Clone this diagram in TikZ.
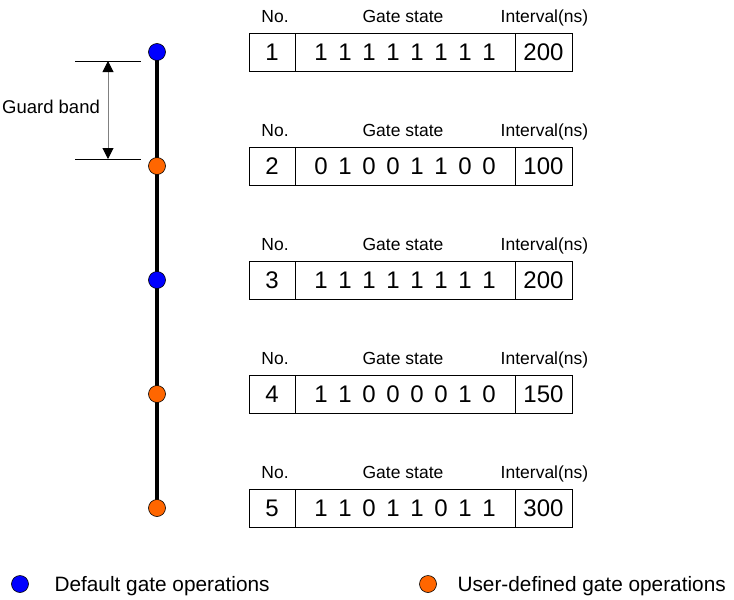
\documentclass[tikz,border=0pt]{standalone}
\usepackage{fontspec}
\setmainfont{Liberation Sans}
\newfontfamily\statefont[WordSpace=1.6]{Liberation Sans}
\usetikzlibrary{arrows.meta,backgrounds}
\definecolor{defaultop}{RGB}{0,0,255}
\definecolor{userop}{RGB}{255,102,0}
\tikzset{
  op/.style={circle,draw=black,line width=.6pt,minimum size=17pt,inner sep=0pt},
  cell/.style={draw=black,line width=.9pt,minimum height=38pt,inner sep=0pt,font=\fontsize{24}{24}\selectfont},
  head/.style={anchor=base,font=\fontsize{17.5}{18}\selectfont},
  legend/.style={anchor=base west,font=\fontsize{20.8}{21}\selectfont}
}

\begin{document}
\begin{tikzpicture}[x=1pt,y=-1pt]
    \useasboundingbox (0,0) rectangle (734,600);
    % gate control list ======================================
    \foreach \i/\c/\g/\t in {1/defaultop/1 1 1 1 1 1 1 1/200,
                             2/userop/0 1 0 0 1 1 0 0/100,
                             3/defaultop/1 1 1 1 1 1 1 1/200,
                             4/userop/1 1 0 0 0 0 1 0/150,
                             5/userop/1 1 0 1 1 0 1 1/300} {
      \pgfmathsetmacro{\y}{52+114*(\i-1)}
      \node[op,fill=\c]           (p\i)   at (157,\y)   {};
      \node[cell,minimum width=46pt]  (no\i)  at (272,\y)   {\i};
      \node[cell,minimum width=220pt] (gs\i)  at (405,\y)   {\statefont\g};
      \node[cell,minimum width=57pt]  (iv\i)  at (543.5,\y) {\t};
      \node[head]                 (hno\i) at (275,\y-30)   {No.};
      \node[head]                 (hgs\i) at (403,\y-30)   {Gate state};
      \node[head]                 (hiv\i) at (544.5,\y-30) {Interval(ns)};
    }
    \begin{scope}[on background layer]
      \draw[line width=3.8pt] (p1.center) -- (p5.center);
    \end{scope}
    % guard band =============================================
    \coordinate (gt1) at (75,61);  \coordinate (gt2) at (141,61);
    \coordinate (gb1) at (75,159); \coordinate (gb2) at (141,159);
    \coordinate (gat) at (108,61); \coordinate (gab) at (108,159);
    \draw[line width=.6pt] (gt1) -- (gt2);
    \draw[line width=.6pt] (gb1) -- (gb2);
    \draw[gray,line width=1pt,{Triangle[black,length=11pt,width=11pt]}-{Triangle[black,length=11pt,width=11pt]}] (gat) -- (gab);
    \node[anchor=base,font=\fontsize{18.5}{19}\selectfont] (gb) at (51,113) {Guard band};
    % legend =================================================
    \node[op,fill=defaultop] (ld)  at (20,584)  {};
    \node[legend]            (ldt) at (51,591)  {Default gate operations};
    \node[op,fill=userop]    (lu)  at (428,584) {};
    \node[legend]            (lut) at (454,591) {User-defined gate operations};
\end{tikzpicture}
\end{document}
